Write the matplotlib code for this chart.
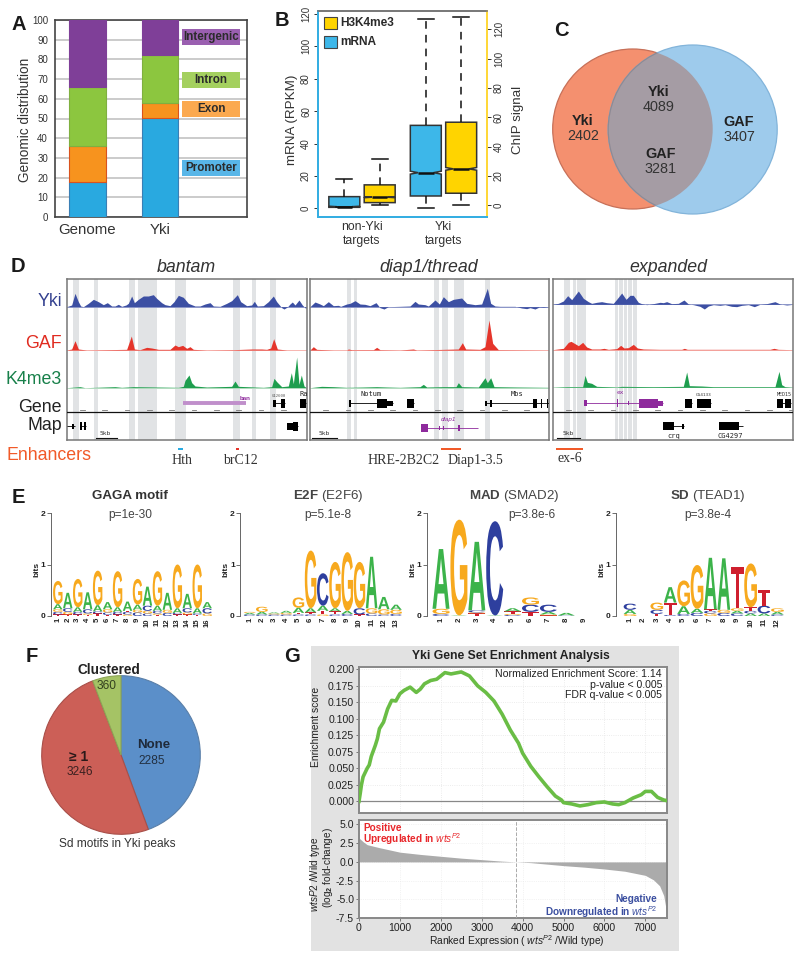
import matplotlib
matplotlib.use('Agg')
import matplotlib.pyplot as plt
from matplotlib.patches import Rectangle, Circle, PathPatch
from matplotlib.textpath import TextPath
from matplotlib.font_manager import FontProperties
from matplotlib.transforms import Affine2D

plt.rcParams['font.family'] = ['Liberation Sans', 'DejaVu Sans']
plt.rcParams['mathtext.fontset'] = 'custom'
plt.rcParams['mathtext.rm'] = 'Liberation Sans'
plt.rcParams['mathtext.it'] = 'Liberation Sans:italic'
plt.rcParams['mathtext.bf'] = 'Liberation Sans:bold'

# ---------- Panel A ----------
A_SAMPLES = ['Genome', 'Yki']
A_CLASSES = ['Promoter', 'Exon', 'Intron', 'Intergenic']
A_PROMOTER = [18, 50.5]
A_EXON = [18, 7.5]
A_INTRON = [30, 24]
A_INTERGENIC = [34, 18]

# ---------- Panel B ----------
B_GROUPS = ['non-Yki\ntargets', 'Yki\ntargets']
B_MRNA_Q1 = [0.6, 7.6]
B_MRNA_MED = [1.0, 22]
B_MRNA_Q3 = [7.2, 51.2]
B_MRNA_LOW = [0.5, 0]
B_MRNA_HIGH = [18, 117]
B_CHIP_Q1 = [1.8, 8.2]
B_CHIP_MED = [5.5, 24.8]
B_CHIP_Q3 = [13.9, 56.6]
B_CHIP_LOW = [0, 0]
B_CHIP_HIGH = [31.8, 128.6]

# ---------- Panel C ----------
C_COUNTS = {'yki_only': '2402', 'yki_shared': '4089', 'gaf_shared': '3281', 'gaf_only': '3407'}

# ---------- Panel D: tracks as (position, height) ----------
P1_YKI = [(200,0),(215,5),(225,40),(235,15),(242,2),(250,0),(265,10),(280,22),(295,15),(310,6),(322,12),(335,2),(345,2),(355,7),(365,1),(378,5),(385,10),(395,32),(403,12),(415,22),(430,32),(445,32),(460,36),(470,25),(485,12),(495,6),(510,3),(522,15),(535,34),(550,28),(565,10),(585,2),(600,2),(615,8),(630,12),(640,2),(660,1),(680,10),(695,18),(712,36),(722,15),(740,3),(755,5),(763,16),(772,2),(790,3),(805,15),(820,32),(830,15),(845,-3),(852,-7),(862,-1),(870,8),(877,14),(885,5),(897,20),(907,5),(918,-6)]
P1_GAF = [(200,0),(215,3),(225,28),(235,3),(260,0),(380,2),(394,42),(403,3),(420,1),(440,8),(455,6),(475,2),(510,2),(525,15),(535,10),(548,14),(560,5),(570,10),(580,2),(620,0),(700,1),(755,3),(785,3),(800,2),(812,6),(821,34),(832,3),(860,0),(918,0)]
P1_K4 = [(200,0),(240,3),(255,0),(345,3),(365,1),(400,3),(470,2),(535,1),(550,4),(555,22),(567,38),(575,15),(585,5),(620,2),(695,4),(705,20),(715,4),(790,1),(815,3),(822,28),(830,18),(845,3),(865,5),(874,45),(880,12),(890,92),(897,10),(904,38),(912,5),(918,1)]
P2_YKI = [(930,0),(945,14),(960,8),(970,3),(985,15),(1000,3),(1015,4),(1022,1),(1040,8),(1050,10),(1065,18),(1080,8),(1095,7),(1110,3),(1128,12),(1140,-3),(1152,-7),(1165,0),(1200,1),(1230,2),(1245,16),(1255,8),(1275,6),(1285,2),(1305,20),(1318,8),(1330,30),(1345,15),(1360,22),(1385,26),(1400,10),(1425,6),(1445,8),(1462,55),(1472,10),(1485,2),(1500,1),(1525,1),(1545,1),(1565,-4),(1580,-6),(1590,-3),(1605,-7),(1618,-1),(1630,-2),(1648,0)]
P2_GAF = [(930,0),(940,10),(950,2),(1000,0),(1040,0),(1045,3),(1055,1),(1120,1),(1130,8),(1140,1),(1200,0),(1240,3),(1250,0),(1375,3),(1387,22),(1397,3),(1440,2),(1455,10),(1467,90),(1478,20),(1495,1),(1648,0)]
P2_K4 = [(930,0),(965,4),(1000,3),(1040,1),(1090,2),(1130,3),(1160,2),(1200,1),(1260,3),(1270,10),(1280,2),(1330,3),(1368,3),(1375,15),(1385,3),(1435,2),(1455,30),(1462,15),(1472,30),(1482,3),(1550,2),(1648,1)]
P3_YKI = [(1658,0),(1675,3),(1690,10),(1703,26),(1715,14),(1735,40),(1750,18),(1765,8),(1775,3),(1790,6),(1805,8),(1820,5),(1840,3),(1850,15),(1865,34),(1878,15),(1890,27),(1900,27),(1915,6),(1925,2),(1940,-1),(1960,2),(1980,6),(1990,5),(2000,8),(2015,2),(2035,3),(2052,13),(2065,1),(2080,-1),(2100,-6),(2113,-14),(2125,-5),(2140,-1),(2160,-3),(2175,-1),(2195,-6),(2210,-7),(2225,-3),(2245,-1),(2263,-7),(2280,0),(2300,2),(2325,8),(2340,1),(2360,-2),(2380,0)]
P3_GAF = [(1658,0),(1690,4),(1705,22),(1713,25),(1725,18),(1735,12),(1748,22),(1760,8),(1775,2),(1800,2),(1812,4),(1825,1),(1850,3),(1862,13),(1872,5),(1885,6),(1900,16),(1912,5),(1930,2),(1980,1),(2045,1),(2053,4),(2062,1),(2310,1),(2322,4),(2335,1),(2380,0)]
P3_K4 = [(1658,0),(1700,2),(1748,2),(1755,36),(1762,15),(1775,12),(1790,3),(1850,1),(1865,3),(1960,2),(2050,3),(2060,46),(2068,5),(2105,4),(2140,2),(2325,2),(2337,48),(2345,8),(2355,2),(2380,0)]
P1_BANDS = [(219,236),(283,294),(387,405),(415,470),(524,558),(700,721),(757,768),(810,827)]
P2_BANDS = [(1041,1053),(1062,1071),(1301,1316),(1327,1343),(1362,1392),(1455,1471)]
P3_BANDS = [(1692,1710),(1718,1728),(1731,1757),(1845,1855),(1858,1868),(1872,1880),(1885,1895),(1898,1910)]

# ---------- Panel E: (letter, bits) from bottom to top ----------
E_GAGA = [[('T',.03),('C',.05),('G',.05),('A',.1),('G',.45)],[('T',.03),('G',.05),('C',.07),('A',.3)],[('T',.03),('C',.05),('A',.09),('G',.55)],[('T',.02),('G',.03),('C',.08),('A',.33)],[('T',.05),('C',.04),('A',.12),('G',.67)],[('T',.02),('C',.05),('G',.06),('A',.14)],[('T',.03),('C',.05),('A',.09),('G',.7)],[('G',.03),('C',.05),('T',.02),('A',.18)],[('C',.07),('G',.05),('A',.1),('G',.5)],[('C',.05),('G',.05),('C',.1),('A',.37)],[('T',.02),('G',.03),('C',.05),('A',.1),('G',.67)],[('C',.06),('G',.06),('A',.33)],[('T',.03),('C',.03),('A',.09),('G',.85)],[('T',.03),('G',.04),('C',.08),('A',.28)],[('T',.02),('C',.03),('A',.1),('G',.85)],[('G',.05),('C',.1),('A',.12)]]
E_E2F = [[('C',.03),('A',.03),('G',.02)],[('C',.03),('A',.05),('G',.1)],[('C',.03),('G',.02),('A',.02)],[('C',.03),('G',.03),('A',.04)],[('C',.03),('T',.03),('A',.1),('G',.2)],[('C',.03),('T',.04),('A',.08),('G',1.12)],[('G',.03),('T',.07),('A',.1),('C',.63)],[('C',.03),('T',.06),('A',.06),('G',.9)],[('C',.04),('A',.06),('G',1.14)],[('T',.03),('C',.12),('G',.9)],[('C',.05),('G',.1),('A',1.0)],[('C',.03),('G',.1),('A',.24)],[('C',.04),('G',.08),('A',.1)]]
E_MAD = [[('C',.04),('G',.1),('A',1.16)],[('A',.01),('G',1.86)],[('T',.05),('G',.02),('C',.04),('A',1.33)],[('A',.01),('C',1.83)],[('C',.02),('G',.02),('T',.05),('A',.06)],[('T',.08),('C',.14),('G',.14)],[('T',.01),('G',.02),('A',.05),('C',.14)],[('C',.01),('A',.05)],[]]
E_SD = [[('G',.04),('A',.08),('C',.12)],[],[('T',.04),('C',.08),('G',.14)],[('C',.02),('T',.24),('A',.3)],[('C',.04),('A',.15),('G',.5)],[('C',.06),('A',.08),('G',.85)],[('G',.05),('C',.05),('T',.03),('A',1.0)],[('C',.06),('G',.06),('A',1.0)],[('C',.05),('A',.05),('G',.05),('T',.8)],[('A',.05),('C',.05),('T',.07),('G',.85)],[('A',.05),('C',.15),('T',.3)],[('C',.03),('A',.05),('G',.07)]]

# ---------- Panel F ----------
F_LABELS = ['None', '\u2265 1', 'Clustered']
F_COUNTS = ['2285', '3246', '360']
F_SHARES = [44.4, 49.8, 5.8]

# ---------- Panel G ----------
G_ES_RANK = [0,30,60,100,200,250,300,400,450,500,600,700,800,900,1000,1100,1250,1400,1500,1600,1750,1900,2000,2100,2250,2500,2700,2900,3100,3300,3500,3700,3900,4000,4200,4400,4600,4800,4950,5000,5200,5400,5600,5800,6000,6200,6350,6500,6700,6900,7000,7150,7300,7450,7530]
G_ES = [0,.012,.025,.037,.05,.055,.068,.085,.095,.11,.12,.14,.153,.152,.163,.168,.173,.165,.17,.178,.183,.185,.19,.195,.193,.196,.19,.175,.165,.152,.132,.108,.088,.073,.053,.037,.022,.008,.002,-.002,-.004,-.007,-.005,-.002,-.001,-.004,-.005,-.002,.005,.010,.015,.015,.006,.002,.001]
G_FC_RANK = [0,100,200,500,1000,1500,2000,2500,3000,3500,3850,4200,4500,5000,5500,6000,6500,7000,7200,7350,7450,7530]
G_FC = [3.2,2.7,2.3,1.9,1.3,1.0,.75,.5,.3,.1,0,-.1,-.25,-.5,-.7,-.95,-1.25,-1.8,-2.4,-3.2,-4.5,-7.0]
G_ES_TICKS = [0,.025,.05,.075,.1,.125,.15,.175,.2]
G_ES_LABELS = ['0.000','0.025','0.050','0.075','0.125','0.100','0.150','0.175','0.200']
G_FC_TICKS = [-7.5,-5,-2.5,0,2.5,5]
G_X_TICKS = [0,1000,2000,3000,4000,5000,6000,7000]

W, H = 800, 958
fig = plt.figure(figsize=(W/100, H/100), dpi=100, facecolor='white')

def add_ax(x0, y0, x1, y1, **kw):
    return fig.add_axes([x0/W, 1-y1/H, (x1-x0)/W, (y1-y0)/H], **kw)

bg = add_ax(0, 0, W, H, zorder=0)
bg.set_xlim(0, W); bg.set_ylim(H, 0); bg.axis('off')
ov = add_ax(0, 0, W, H, zorder=10)
ov.set_xlim(0, W); ov.set_ylim(H, 0); ov.axis('off'); ov.patch.set_alpha(0)

def T(x, y, s, size=8, ha='center', va='center', **kw):
    kw.setdefault('color', '#222222')
    return ov.text(x, y, s, fontsize=size, ha=ha, va=va, **kw)

for x, y, s in [(19,24,'A'),(282,20,'B'),(561,30,'C'),(18,266,'D'),(18,497,'E'),(32,657,'F'),(292,657,'G')]:
    T(x, y, s, size=14.5, fontweight='bold', color='#1a1a1a')

# ===== A =====
axA = add_ax(55, 20, 247, 217, zorder=2)
cols = ['#29A9E0', '#F7931E', '#8CC63F', '#7F3F98']
edges = ['#3A7FB5', '#D9531E', '#7FB040', '#7F3F98']
bottom = [0, 0]
for vals, c, e, name in zip([A_PROMOTER, A_EXON, A_INTRON, A_INTERGENIC], cols, edges, A_CLASSES):
    axA.bar([0, 1], vals, bottom=bottom, width=0.51, color=c, edgecolor=e, linewidth=0.8, zorder=3, label=name)
    bottom = [b+v for b, v in zip(bottom, vals)]
axA.set_xlim(-0.448, 2.2); axA.set_ylim(0, 100)
axA.set_yticks(range(0, 101, 10))
axA.grid(axis='y', color='#BDBDBD', lw=1.1, zorder=0)
axA.set_axisbelow(True)
axA.tick_params(axis='y', length=0, labelsize=7, pad=5, labelcolor='#333333')
axA.set_xticks([0, 1]); axA.set_xticklabels(A_SAMPLES, fontsize=10.8, color='#333333')
axA.tick_params(axis='x', length=0, pad=4)
for s in axA.spines.values():
    s.set_color('#444444'); s.set_linewidth(1.2)
T(25, 120, 'Genomic distribution', size=9.8, rotation=90, color='#333333')
for (y0, y1, c, s) in [(29,45,'#9A5FB0','Intergenic'),(72,88,'#A4D05F','Intron'),(101,117,'#FBA94F','Exon'),(160,176,'#58B6E8','Promoter')]:
    ov.add_patch(Rectangle((182, y0), 58, y1-y0, color=c, lw=0))
    T(211, (y0+y1)/2, s, size=8.4, fontweight='bold', color='#2b2b2b')

# ===== B =====
axB = add_ax(318, 11, 487, 217, zorder=2)
axB2 = axB.twinx(); axB2.set_zorder(3)
axB.set_xlim(0.46, 2.534); axB.set_ylim(-5.37, 121.8); axB2.set_ylim(-8, 132.4)
def stats(q1, med, q3, lo, hi):
    out = []
    for a, m, b, l, h in zip(q1, med, q3, lo, hi):
        n = max(0.3, min(0.9, (b-a)*0.03))
        out.append(dict(q1=a, med=m, q3=b, whislo=l, whishi=h, cilo=max(a, m-n), cihi=min(b, m+n), fliers=[]))
    return out
common = dict(widths=0.38, shownotches=True, patch_artist=True, showfliers=False, capwidths=0.2,
              whiskerprops=dict(ls=(0, (5, 4)), lw=1.1, color='#111111'),
              capprops=dict(lw=1.1, color='#111111'),
              medianprops=dict(lw=1.8, color='#111111'))
b1 = axB.bxp(stats(B_MRNA_Q1, B_MRNA_MED, B_MRNA_Q3, B_MRNA_LOW, B_MRNA_HIGH), positions=[1-0.217, 2-0.217], **common)
b2 = axB2.bxp(stats(B_CHIP_Q1, B_CHIP_MED, B_CHIP_Q3, B_CHIP_LOW, B_CHIP_HIGH), positions=[1+0.217, 2+0.217], **common)
for p in b1['boxes']:
    p.set(facecolor='#3DB7E9', edgecolor='#333333', linewidth=1.1)
for p in b2['boxes']:
    p.set(facecolor='#FFD400', edgecolor='#333333', linewidth=1.1)
axB.set_xlim(0.46, 2.534); axB2.set_xlim(0.46, 2.534)
axB.set_xticks([1, 2]); axB.set_xticklabels(B_GROUPS, fontsize=8.8, color='#333333', linespacing=1.15)
axB.tick_params(axis='x', length=0, pad=3)
axB2.tick_params(axis='x', bottom=False, labelbottom=False)
axB.set_yticks(range(0, 121, 20))
axB.tick_params(axis='y', labelsize=7, rotation=90, length=3, width=0.7, pad=2, colors='#333333')
axB2.set_yticks(range(0, 121, 20))
axB2.tick_params(axis='y', labelsize=7, rotation=90, length=3, width=0.7, pad=2, colors='#333333')
for l in axB.get_yticklabels() + axB2.get_yticklabels():
    l.set_va('center')
for a in (axB, axB2):
    a.spines['left'].set_color('#35AEE2'); a.spines['left'].set_linewidth(1.4)
    a.spines['bottom'].set_color('#35AEE2'); a.spines['bottom'].set_linewidth(1.4)
    a.spines['right'].set_color('#FFD83A'); a.spines['right'].set_linewidth(1.4)
    a.spines['top'].set_color('#777777'); a.spines['top'].set_linewidth(1.2)
T(292, 120, 'mRNA (RPKM)', size=9.6, rotation=90, color='#333333')
T(518, 120, 'ChIP signal', size=9.6, rotation=90, color='#333333')
for y, c, s in [(17,'#FFD400','H3K4me3'),(36,'#3DB7E9','mRNA')]:
    ov.add_patch(Rectangle((324, y), 13, 12, facecolor=c, edgecolor='#444444', lw=0.8))
    T(340, y+6, s, size=8.6, ha='left', fontweight='bold', color='#2a2a2a')

# ===== C =====
red = Circle((632.7, 129), 80, facecolor='#F4906F', edgecolor='#C77058', lw=0.9, zorder=1)
blue = Circle((692.7, 129.5), 84.5, facecolor='#9ECBEC', edgecolor='#82B4DA', lw=0.9, zorder=1)
ov.add_patch(red); ov.add_patch(blue)
inter = Circle((692.7, 129.5), 84.5, facecolor='#A59CA4', edgecolor='#8E8A94', lw=0.9, zorder=2)
ov.add_patch(inter); inter.set_clip_path(Circle((632.7, 129), 80, transform=ov.transData))
for x, y, s, n in [(583,121,'Yki',C_COUNTS['yki_only']),(659,92,'Yki',C_COUNTS['yki_shared']),(661,154,'GAF',C_COUNTS['gaf_shared']),(739,122,'GAF',C_COUNTS['gaf_only'])]:
    T(x, y, s, size=10.4, fontweight='bold', zorder=5, color='#222222')
    T(x, y+15, n, size=10.4, zorder=5, color='#333333')

# ===== D =====
YKI_C, GAF_C, K4_C = '#3C4FA3', '#E5352B', '#1E9E4E'
def track_panel(x0, x1, bands, yki, gaf, k4, yki_base=155, gaf_base=285, k4_base=398):
    ax = add_ax(x0/3, 279, x1/3, 440, zorder=2)
    ax.set_xlim(x0, x1); ax.set_ylim(555, 72)
    ax.set_xticks([]); ax.set_yticks([])
    for b in bands:
        ax.axvspan(b[0], b[1], color='#E1E3E5', lw=0, zorder=0)
    for data, base, c, bl in [(yki, yki_base, YKI_C, '#9AA3CF'), (gaf, gaf_base, GAF_C, '#F7B5B0'), (k4, k4_base, K4_C, '#CDE8D3')]:
        xs = [p[0] for p in data]; hs = [base-p[1] for p in data]
        ax.axhline(base, color=bl, lw=0.7, zorder=1)
        ax.fill_between(xs, base, hs, color=c, lw=0, zorder=2)
    ax.axhline(472, color='#111111', lw=0.9, zorder=3)
    for x in range(int(x0)+40, int(x1)-10, 67):
        ax.plot([x, x+14], [465, 465], color='#777777', lw=0.6, zorder=3)
    for s in ax.spines.values():
        s.set_color('#777777'); s.set_linewidth(1.1)
    return ax
def gene(ax, y, start, end, exons, color='#000000', h=18, lw=0.6):
    ax.plot([start, end], [y, y], color=color, lw=lw, zorder=4, solid_capstyle='butt')
    for a, b, scale in exons:
        ax.add_patch(Rectangle((a, y-h*scale/2), b-a, h*scale, color=color, lw=0, zorder=5))

d1 = track_panel(200, 920, P1_BANDS, P1_YKI, P1_GAF, P1_K4)
d2 = track_panel(930, 1648, P2_BANDS, P2_YKI, P2_GAF, P2_K4)
d3 = track_panel(1658, 2380, P3_BANDS, P3_YKI, P3_GAF, P3_K4, yki_base=148, gaf_base=284, k4_base=397)

gene(d1, 445, 548, 738, [], color='#C08FCB', lw=2.8)
gene(d1, 445, 820, 855, [(820,828,1.2),(842,855,1.4)])
gene(d1, 445, 900, 918, [(900,918,1.5)])
gene(d1, 514, 200, 225, [(216,223,.9)])
gene(d1, 514, 240, 258, [(241,246,1.3),(251,257,1.3)])
gene(d1, 514, 860, 895, [(862,878,1.1),(880,895,1.4)])
gene(d2, 445, 1047, 1178, [(1047,1053,1.1),(1088,1090,.5),(1130,1160,1.5),(1160,1178,.9)], color='#000000')
gene(d2, 445, 1220, 1242, [(1220,1242,1.4)])
gene(d2, 445, 1455, 1648, [(1455,1460,.9),(1470,1476,1.2),(1600,1610,1.5),(1622,1625,1.4),(1640,1643,1.4)])
gene(d2, 518, 1262, 1435, [(1262,1285,1.3),(1318,1321,.7),(1330,1333,.7),(1375,1381,1),(1433,1435,1)], color='#8E2A9C')
gene(d3, 445, 1753, 1990, [(1753,1760,1),(1805,1807,.6),(1850,1853,1.3),(1885,1888,.7),(1918,1975,1.5),(1975,1990,.8)], color='#8E2A9C')
gene(d3, 445, 2055, 2075, [(2055,2075,1.4)])
gene(d3, 445, 2090, 2132, [(2090,2132,1.4)])
gene(d3, 445, 2330, 2372, [(2330,2350,1.4),(2355,2372,1.4)])
gene(d3, 514, 1990, 2053, [(1990,2023,1.3),(2045,2053,.9)])
gene(d3, 514, 2158, 2228, [(2158,2218,1.3)])

mono = dict(family='DejaVu Sans Mono', zorder=6)
d1.text(735, 430, 'ban', fontsize=4.5, color='#8E2A9C', fontweight='bold', ha='center', va='center', zorder=6)
d1.text(837, 422, 'G12600', fontsize=2.8, color='#555555', ha='center', va='center', **mono)
d1.text(910, 417, 'Ra', fontsize=5, color='#222222', ha='center', va='center', **mono)
d2.text(1112, 418, 'Notum', fontsize=5, color='#222222', ha='center', va='center', **mono)
d2.text(1552, 416, 'Mbs', fontsize=5, color='#222222', ha='center', va='center', **mono)
d2.text(1346, 493, 'diap1', fontsize=4.5, color='#8E2A9C', style='italic', ha='center', va='center', zorder=6)
d3.text(1860, 413, 'ex', fontsize=4.5, color='#8E2A9C', ha='center', va='center', **mono)
d3.text(2112, 420, 'CG4133', fontsize=3.2, color='#333333', ha='center', va='center', **mono)
d3.text(2352, 420, 'MED15', fontsize=3.6, color='#333333', ha='center', va='center', **mono)
d3.text(2020, 543, 'crq', fontsize=5, color='#222222', ha='center', va='center', **mono)
d3.text(2192, 543, 'CG4297', fontsize=5, color='#222222', ha='center', va='center', **mono)
for a, l, r, tx in [(d1,287,350,315),(d2,935,1012,972),(d3,1670,1740,1705)]:
    a.plot([l, r], [548, 548], color='#111111', lw=0.8, zorder=6)
    a.text(tx, 536, '5kb', fontsize=4.5, color='#333333', ha='center', va='center', **mono)

T(186, 267, 'bantam', size=12.8, style='italic', color='#333333')
T(429, 267, 'diap1/thread', size=12.8, style='italic', color='#333333')
T(668, 267, 'expanded', size=12.8, style='italic', color='#333333')
T(62, 302, 'Yki', size=12.8, ha='right', color='#33408F')
T(62, 343, 'GAF', size=12.8, ha='right', color='#E02B20')
T(62, 379, 'K4me3', size=12.8, ha='right', color='#18804A')
T(62, 408, 'Gene', size=12.8, ha='right', color='#222222')
T(62, 426, 'Map', size=12.8, ha='right', color='#222222')
T(7, 455, 'Enhancers', size=12.8, ha='left', color='#F15A29')
serif = dict(family='Liberation Serif', size=10, color='#333333')
T(182, 460, 'Hth', **serif); T(240, 460, 'brC12', **serif)
T(404, 460, 'HRE-2B2C2', **serif); T(475, 460, 'Diap1-3.5', **serif); T(570, 458, 'ex-6', **serif)
for x0, x1, c in [(178,183,'#29ABE2'),(236,238.5,'#E5352B'),(441,461,'#F15A29'),(556,583,'#F15A29')]:
    ov.add_patch(Rectangle((x0, 448), x1-x0, 2.4, color=c, lw=0))

# ===== E =====
LOGO_COL = {'A': '#3CB34A', 'C': '#2E3F9E', 'G': '#F7A91E', 'T': '#CF1F2E'}
FP = FontProperties(family='Liberation Sans', weight='bold')
def letter(ax, ch, x, y, w, h):
    tp = TextPath((0, 0), ch, size=1, prop=FP)
    bb = tp.get_extents()
    tr = Affine2D().translate(-bb.x0, -bb.y0).scale(w/bb.width, h/bb.height).translate(x-w/2, y)
    ax.add_patch(PathPatch(tp.transformed(tr), facecolor=LOGO_COL[ch], edgecolor='none', lw=0))
def logo(stacks, axis_px, pos1_px, spacing):
    n = len(stacks)
    right_px = pos1_px + (n-1)*spacing + 0.7*spacing
    ax = add_ax(axis_px, 513, right_px, 616, zorder=2)
    ax.patch.set_alpha(0)
    ax.set_xlim(1 + (axis_px-pos1_px)/spacing, n+0.7); ax.set_ylim(0, 2)
    for i, st in enumerate(stacks, start=1):
        y = 0
        for ch, h in st:
            letter(ax, ch, i, y, 0.95, h)
            y += h
    ax.set_xticks(range(1, n+1))
    ax.set_xticklabels([str(i) for i in range(1, n+1)], rotation=90, fontsize=5.6, fontweight='bold', color='#222222')
    ax.set_yticks([0, 1, 2]); ax.set_yticklabels(['0', '1', '2'], fontsize=6, fontweight='bold', color='#222222')
    ax.tick_params(axis='y', length=3, width=0.6, pad=1, color='#555555')
    ax.tick_params(axis='x', length=0, pad=1.5)
    for s in ('top', 'right', 'bottom'):
        ax.spines[s].set_visible(False)
    ax.spines['left'].set_color('#666666'); ax.spines['left'].set_linewidth(0.7)
    T(axis_px-14, 569, 'bits', size=6, rotation=90, fontweight='bold')
logo(E_GAGA, 51, 57.8, 9.96)
logo(E_E2F, 240.4, 249.6, 12.2)
logo(E_MAD, 427, 441, 17.9)
logo(E_SD, 616, 630, 13.4)
T(130, 496, 'GAGA motif', size=9.6, fontweight='bold', color='#333333')
T(130, 515, 'p=1e-30', size=8.6, color='#444444')
T(328, 496, r'$\mathbf{E2F}$ (E2F6)', size=9.6, color='#444444')
T(328, 515, 'p=5.1e-8', size=8.6, color='#444444')
T(514, 496, r'$\mathbf{MAD}$ (SMAD2)', size=9.6, color='#444444')
T(532, 515, 'p=3.8e-6', size=8.6, color='#444444')
T(708, 496, r'$\mathbf{SD}$ (TEAD1)', size=9.6, color='#444444')
T(708, 515, 'p=3.8e-4', size=8.6, color='#444444')

# ===== F =====
axF = add_ax(121-79.3, 755-79.3, 121+79.3, 755+79.3, zorder=2)
wedges, _ = axF.pie(F_SHARES, startangle=90, counterclock=False, radius=1,
                    colors=['#5B8FC9', '#CC5F57', '#A5C365'],
                    wedgeprops=dict(edgecolor='#5A7FA8', linewidth=0.8))
wedges[1].set_edgecolor('#A84F49'); wedges[2].set_edgecolor('#8DA555')
axF.set_xlim(-1, 1); axF.set_ylim(-1, 1)
T(154, 745, F_LABELS[0], size=9.5, fontweight='bold', color='#1f2a3a')
T(152, 761, F_COUNTS[0], size=8.6, color='#222f40')
T(79, 757, F_LABELS[1], size=10, fontweight='bold', color='#2a1a1a')
T(80, 772, F_COUNTS[1], size=8.6, color='#3a2020')
T(109, 670, F_LABELS[2], size=9.8, fontweight='bold', color='#222222')
T(107, 686, F_COUNTS[2], size=8.6, color='#33401f')
T(117, 844, 'Sd motifs in Yki peaks', size=8.6, color='#333333')

# ===== G =====
bg.add_patch(Rectangle((310.5, 646), 368.5, 305, color='#E2E2E2', lw=0))
T(511, 656, 'Yki Gene Set Enrichment Analysis', size=8.7, fontweight='bold', color='#222222')
axT = add_ax(359, 667, 667, 813, zorder=2)
axT.set_xlim(0, 7530); axT.set_ylim(-0.0177, 0.2035)
axT.plot(G_ES_RANK, G_ES, color='#6ABD45', lw=2.6, zorder=3, solid_joinstyle='round')
axT.axhline(0, color='#888888', lw=0.9, zorder=2)
axT.set_yticks(G_ES_TICKS); axT.set_yticklabels(G_ES_LABELS, fontsize=7.6, color='#222222')
axT.set_xticks(G_X_TICKS); axT.tick_params(axis='x', labelbottom=False, length=0)
axT.tick_params(axis='y', length=2, width=0.6, pad=1.5, color='#666666')
axT.grid(color='#E6E6E6', lw=0.6, ls=':')
axT.set_axisbelow(True)
axL = add_ax(359, 820, 667, 918, zorder=2)
axL.set_xlim(0, 7530); axL.set_ylim(-7.5, 5.6)
axL.fill_between(G_FC_RANK, 0, G_FC, color='#ABABAB', lw=0, zorder=2)
axL.axvline(3850, color='#AAAAAA', lw=0.7, ls='--', zorder=3)
axL.set_yticks(G_FC_TICKS); axL.set_yticklabels(['-7.5', '-5.0', '-2.5', '0.0', '2.5', '5.0'], fontsize=7.6, color='#222222')
axL.set_xticks(G_X_TICKS); axL.set_xticklabels([str(v) for v in G_X_TICKS], fontsize=7.6, color='#222222')
axL.tick_params(axis='both', length=2, width=0.6, pad=1.5, color='#666666')
axL.grid(color='#E8E8E8', lw=0.5, ls=':')
axL.set_axisbelow(True)
for a in (axT, axL):
    for s in a.spines.values():
        s.set_color('#888888'); s.set_linewidth(1.4)
for i, s in enumerate(['Normalized Enrichment Score: 1.14', 'p-value < 0.005', 'FDR q-value < 0.005']):
    T(662, 674+i*10.5, s, size=7.6, ha='right', color='#222222')
T(316, 727, 'Enrichment score', size=7.4, rotation=90, color='#222222')
T(314.5, 874, r'$\mathit{wtsP2}$ /Wild type', size=7.2, rotation=90, color='#222222')
T(328, 868, r'(log$_{\mathbf{2}}$ fold-change)', size=7.2, rotation=90, color='#222222')
T(363, 828, 'Positive', size=7.2, ha='left', fontweight='bold', color='#E8262A')
T(363, 839.5, r'Upregulated in $\mathit{wts}^{P2}$', size=7.2, ha='left', fontweight='bold', color='#E8262A')
T(657, 899, 'Negative', size=7.2, ha='right', fontweight='bold', color='#3B4FA0')
T(657, 912, r'Downregulated in $\mathit{wts}^{P2}$', size=7.2, ha='right', fontweight='bold', color='#3B4FA0')
T(517, 941, r'Ranked Expression ( $\mathit{wts}^{P2}$ /Wild type)', size=7.4, color='#222222')

fig.savefig('out.png', dpi=100)
